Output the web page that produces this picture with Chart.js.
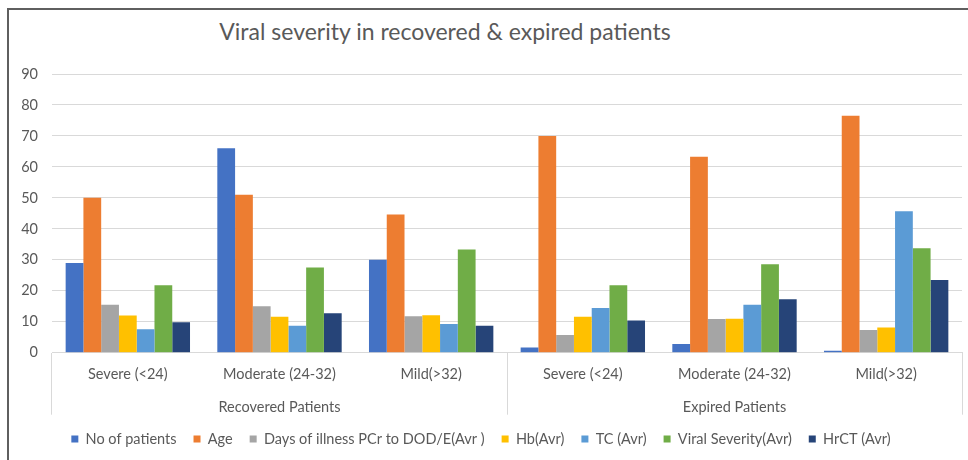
<!DOCTYPE html>
<html><head><meta charset="utf-8">
<script src="https://cdn.jsdelivr.net/npm/chart.js"></script>
<style>
html,body{margin:0;padding:0;background:#fff;}
#wrap{position:relative;width:968px;height:460px;overflow:hidden;background:#fff;}
#frame{position:absolute;left:7px;top:8px;width:1000px;height:500px;border-left:2px solid #5f5f5f;border-top:2px solid #5f5f5f;}
#title{position:absolute;left:0;width:890px;top:17px;line-height:28px;text-align:center;font-family:Lato,sans-serif;font-size:23px;color:#595959;}
canvas{position:absolute;left:0;top:0;}
</style></head><body>
<div id="wrap"><div id="frame"></div><div id="title">Viral severity in recovered &amp; expired patients</div><canvas id="c" width="968" height="460"></canvas></div>
<script>
const categories = ['Severe (<24)','Moderate (24-32)','Mild(>32)','Severe (<24)','Moderate (24-32)','Mild(>32)'];
const groups = ['Recovered Patients','Expired Patients'];
const seriesNames = ['No of patients','Age','Days of illness PCr to DOD/E(Avr )','Hb(Avr)','TC (Avr)','Viral Severity(Avr)','HrCT (Avr)'];
const noOfPatients = [29, 66, 30, 1.7, 2.8, 0.6];
const age = [50, 51, 44.6, 70, 63.3, 76.5];
const daysOfIllness = [15.5, 15, 11.8, 5.7, 10.9, 7.3];
const hb = [12, 11.6, 12.1, 11.6, 11, 8.1];
const tc = [7.6, 8.7, 9.3, 14.4, 15.5, 45.7];
const viralSeverity = [21.8, 27.5, 33.3, 21.8, 28.6, 33.7];
const hrct = [9.8, 12.7, 8.7, 10.4, 17.3, 23.5];
const yMin = 0, yMax = 90, yStep = 10;
const colors = ['#4472C4','#ED7D31','#A5A5A5','#FFC000','#5B9BD5','#70AD47','#264478'];
const seriesValues = [noOfPatients, age, daysOfIllness, hb, tc, viralSeverity, hrct];

const textColor = '#595959';
const fontFamily = 'Lato, sans-serif';
const fontSize = 14.5;

new Chart(document.getElementById('c'), {
  type: 'bar',
  data: {
    labels: categories,
    datasets: seriesNames.map((n, i) => ({
      label: n,
      data: seriesValues[i],
      backgroundColor: colors[i],
      borderWidth: 0,
      categoryPercentage: 0.82,
      barPercentage: 1.0
    }))
  },
  options: {
    responsive: false,
    animation: false,
    devicePixelRatio: 1,
    layout: { padding: { top: 74, left: 0, right: 6, bottom: 3.75 } },
    plugins: {
      title: { display: false },
      tooltip: { enabled: false },
      legend: {
        position: 'bottom',
        labels: { boxWidth: 7, boxHeight: 7, padding: 17, color: textColor, font: { family: fontFamily, size: fontSize } }
      }
    },
    scales: {
      y: {
        min: yMin, max: yMax,
        ticks: { stepSize: yStep, padding: 14, color: textColor, font: { family: fontFamily, size: fontSize } },
        grid: { color: '#d9d9d9', drawTicks: false },
        border: { display: false },
        afterFit: (s) => { s.width = 52; }
      },
      x: {
        weight: 0,
        offset: true,
        ticks: { display: false },
        grid: {
          offset: true,
          drawOnChartArea: false,
          drawTicks: true,
          tickLength: 62,
          color: (ctx) => (ctx.index === undefined || ctx.index % 3 === 0) ? '#d9d9d9' : 'rgba(0,0,0,0)'
        },
        border: { display: true, color: '#d9d9d9' },
        afterFit: (s) => { s.height = 0; }
      },
      xCat: {
        type: 'category',
        labels: categories,
        position: 'bottom',
        weight: 1,
        offset: true,
        ticks: { padding: 13, autoSkip: false, maxRotation: 0, color: textColor, font: { family: fontFamily, size: fontSize } },
        grid: { display: false, drawTicks: false },
        border: { display: false },
        afterFit: (s) => { s.height = 31.6; }
      },
      xGroup: {
        type: 'category',
        labels: groups,
        position: 'bottom',
        weight: 2,
        offset: true,
        ticks: { padding: 14, maxRotation: 0, color: textColor, font: { family: fontFamily, size: fontSize } },
        grid: { display: false, drawTicks: false },
        border: { display: false },
        afterFit: (s) => { s.height = 30.45; }
      }
    }
  }
});
</script>
</body></html>
